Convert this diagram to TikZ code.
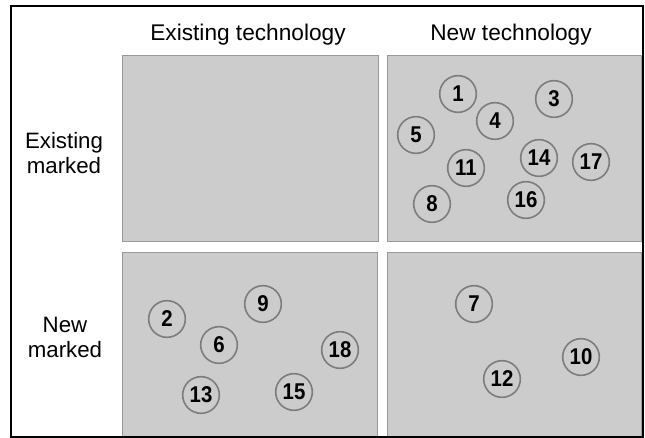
\documentclass[tikz,border=0pt]{standalone}
\usepackage{fontspec}
\usepackage{graphicx}
\setmainfont{Liberation Sans}
\newcommand{\tallnum}[1]{\scalebox{1}[1.12]{#1}}
\begin{document}
\begin{tikzpicture}[x=0.75pt,y=-0.75pt,
  panel/.style={fill=panelgray,draw=edgegray,line width=0.75pt},
  item/.style={circle,fill=panelgray,draw=ringgray,line width=1.2pt,
    minimum size=27.5pt,inner sep=0pt,font=\fontsize{15.3}{15.3}\selectfont\bfseries},
  head/.style={anchor=base,font=\fontsize{17}{17}\selectfont},
  rowlabel/.style={align=center,font=\fontsize{16.7}{18.75}\selectfont}]
\definecolor{panelgray}{HTML}{CCCCCC}
\definecolor{edgegray}{HTML}{999999}
\definecolor{ringgray}{HTML}{7D7D7D}
\useasboundingbox (0,0) rectangle (645,438);
\clip (0,0) rectangle (645,438);

% quadrant panels
\path[panel] (122,56) rectangle (378,241);
\path[panel] (387,56) rectangle (641,241);
\path[panel] (122,252) rectangle (377,440);
\path[panel] (387,252) rectangle (641,440);

% outer frame
\draw[line width=1.6pt] (11,6) rectangle (643,437);

% column headings
\node[head] (hexist) at (248,41) {Existing technology};
\node[head] (hnew) at (511,41) {New technology};

% row headings
\node[rowlabel] (rexist) at (64,153) {Existing\\marked};
\node[rowlabel] (rnew) at (65,337) {New\\marked};

% existing market, new technology
\node[item] (n1) at (458,94) {\tallnum{1}};
\node[item] (n3) at (554,99) {\tallnum{3}};
\node[item] (n4) at (495,121) {\tallnum{4}};
\node[item] (n5) at (416,135) {\tallnum{5}};
\node[item] (n11) at (466,168) {\tallnum{11}};
\node[item] (n14) at (539,158) {\tallnum{14}};
\node[item] (n17) at (591,162) {\tallnum{17}};
\node[item] (n8) at (432,204) {\tallnum{8}};
\node[item] (n16) at (526,200) {\tallnum{16}};

% new market, existing technology
\node[item] (n2) at (167,319) {\tallnum{2}};
\node[item] (n9) at (263,304) {\tallnum{9}};
\node[item] (n6) at (219,345) {\tallnum{6}};
\node[item] (n18) at (340,350) {\tallnum{18}};
\node[item] (n13) at (201,395) {\tallnum{13}};
\node[item] (n15) at (294,392) {\tallnum{15}};

% new market, new technology
\node[item] (n7) at (474,304) {\tallnum{7}};
\node[item] (n10) at (581,357) {\tallnum{10}};
\node[item] (n12) at (502,379) {\tallnum{12}};
\end{tikzpicture}
\end{document}
